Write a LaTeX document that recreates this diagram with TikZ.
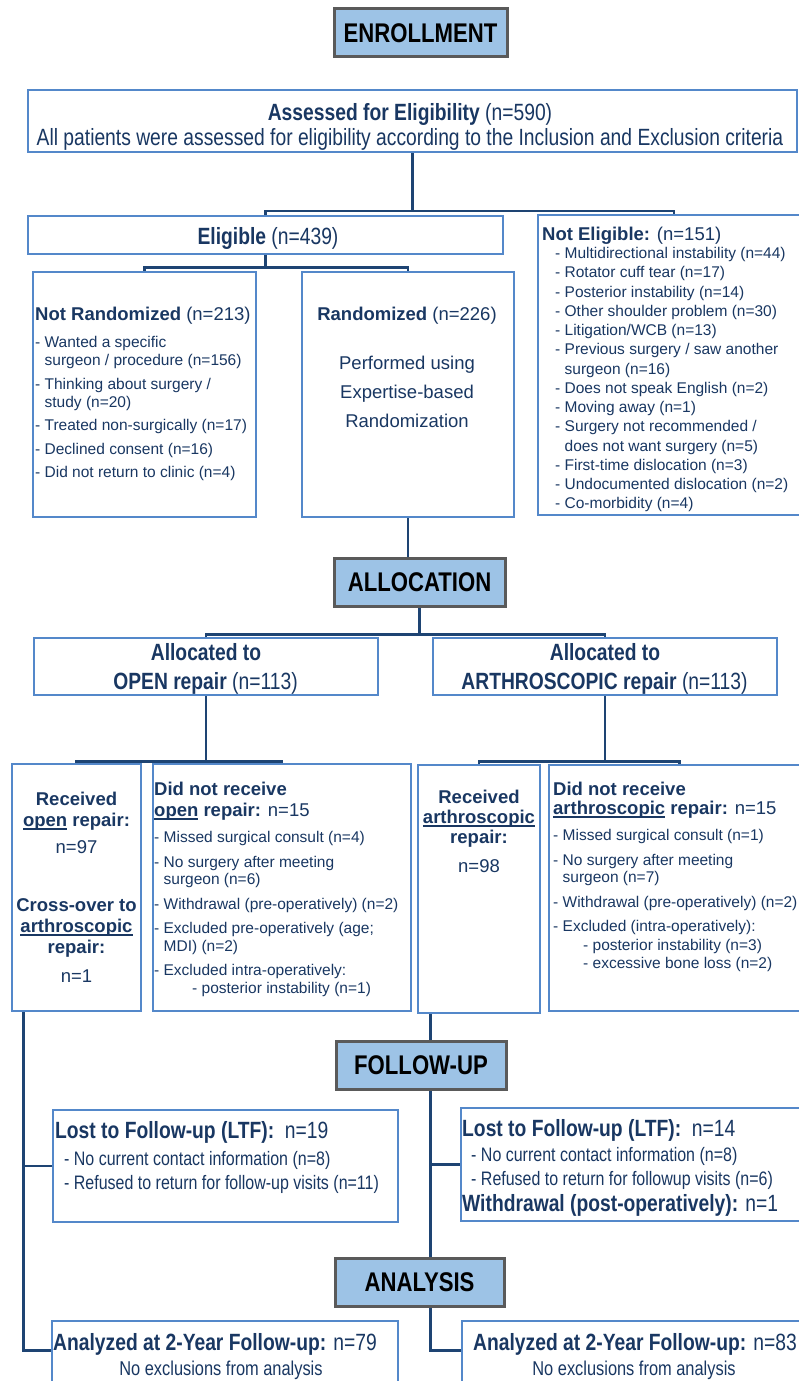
\documentclass[tikz,border=0pt]{standalone}
\usepackage{fontspec}
\setmainfont{Liberation Sans}
\newfontfamily\nar[FakeStretch=0.82]{Liberation Sans}
\usetikzlibrary{calc}
\definecolor{textc}{RGB}{25,55,98}
\definecolor{boxc}{RGB}{84,136,202}
\definecolor{linec}{RGB}{30,68,115}
\definecolor{headfill}{RGB}{157,195,230}
\definecolor{headc}{RGB}{90,90,90}
\newcommand\undl[1]{\setbox0\hbox{#1}\rlap{\rule[-3pt]{\wd0}{1.6pt}}\box0\relax}
\newcommand\mkbox[5]{\node[boxst, minimum width=#4-#2, minimum height=#5-#3] (#1) at ({(#2+#4)/2},{(#3+#5)/2}) {};}
\newcommand\mkhead[6]{\node[headst, minimum width=#4-#2, minimum height=#5-#3] (#1) at ({(#2+#4)/2},{(#3+#5)/2}) {#6};}
\tikzset{
  boxst/.style={draw=boxc, line width=2.8pt, fill=white, inner sep=0pt},
  headst/.style={draw=headc, line width=3pt, fill=headfill, inner sep=0pt, text=black, font=\nar\bfseries\fontsize{27}{27}\selectfont},
  conn/.style={draw=linec, line width=2.8pt},
  txt/.style={anchor=base west, inner sep=0pt, align=left, text=textc},
  ctxt/.style={anchor=base, inner sep=0pt, align=center, text=textc},
  nbig/.style={font=\nar\fontsize{23.5}{25}\selectfont},
  nsmall/.style={font=\nar\fontsize{19.5}{24}\selectfont},
  wtitle/.style={font=\fontsize{18.5}{21}\selectfont},
  witem/.style={font=\fontsize{15.5}{17.5}\selectfont}
}
\begin{document}
\begin{tikzpicture}[x=1pt,y=-1pt]
\path[use as bounding box] (0,0) rectangle (798,1381);
% heads
\mkhead{enr}{334}{9}{507}{57}{ENROLLMENT}
\mkhead{alloc}{334}{558}{505}{606}{ALLOCATION}
\mkhead{fol}{336}{1041}{506}{1089}{FOLLOW-UP}
\mkhead{ana}{335}{1258}{504}{1306}{ANALYSIS}
% boxes
\mkbox{assess}{28}{90}{797}{152}
\mkbox{elig}{28}{216}{503}{254}
\mkbox{nelig}{538}{215}{810}{515}
\mkbox{nrand}{33}{272}{256}{517}
\mkbox{rand}{302}{272}{514}{517}
\mkbox{open}{34}{638}{378}{695}
\mkbox{arth}{433}{638}{777}{695}
\mkbox{ropen}{12}{764}{141}{1011}
\mkbox{dopen}{153}{764}{411}{1011}
\mkbox{rarth}{418}{765}{540}{1013}
\mkbox{darth}{549}{765}{810}{1011}
\mkbox{lostL}{53}{1110}{398}{1222}
\mkbox{lostR}{461}{1108}{810}{1221}
\mkbox{anaL}{52}{1321}{398}{1400}
\mkbox{anaR}{462}{1321}{810}{1400}
% connectors
\coordinate (j1) at (412.5,211);
\draw[conn] (assess.south) -- (j1);
\draw[conn] (elig.north) |- (j1) -| (nelig.north);
\coordinate (j2) at ($(elig.south)+(0,12)$);
\draw[conn] (elig.south) -- (j2);
\draw[conn] (nrand.north) |- (j2) -| (rand.north);
\draw[conn] (rand.south) -- (rand.south |- alloc.north);
\coordinate (j3) at ($(alloc.south)+(0,27)$);
\draw[conn] (alloc.south) -- (j3);
\draw[conn] (open.north) |- (j3) -| (arth.north);
\coordinate (j4) at ($(open.south)+(0,65)$);
\draw[conn] (open.south) -- (j4);
\draw[conn] (ropen.north) |- (j4) -| (dopen.north);
\coordinate (j5) at ($(arth.south)+(0,65)$);
\draw[conn] (arth.south) -- (j5);
\draw[conn] (rarth.north) |- (j5) -| (darth.north);
\coordinate (l0) at ($(ropen.south west)+(13,0)$);
\coordinate (aL) at ($(anaL.north west)+(0,31)$);
\draw[conn] (l0) |- (aL);
\draw[conn] (l0 |- lostL.west) -- (lostL.west);
\coordinate (r0) at ($(rarth.south west)+(14,0)$);
\coordinate (aR) at ($(anaR.north west)+(0,31)$);
\draw[conn] (r0) -- (r0 |- fol.north);
\draw[conn] (r0 |- fol.south) -- (r0 |- ana.north);
\draw[conn] (r0 |- ana.south) |- (aR);
\draw[conn] (r0 |- lostR.west) -- (lostR.west);
% texts (base anchor of a multi-line node = baseline of its last line)
\node[ctxt, nbig] (t1) at (410,120) {{\bfseries Assessed for Eligibility} (n=590)};
\node[ctxt, nbig] (t2) at (410,145) {All patients were assessed for eligibility according to the Inclusion and Exclusion criteria};
\node[ctxt, nbig] (t3) at (268,244) {{\bfseries Eligible} (n=439)};
\node[txt, wtitle] (t4) at (542,240) {{\bfseries Not Eligible:} (n=151)};
\node[txt, font=\fontsize{15.5}{19.25}\selectfont] (t5) at (555,508.85) {- Multidirectional instability (n=44)\\- Rotator cuff tear (n=17)\\- Posterior instability (n=14)\\- Other shoulder problem (n=30)\\- Litigation/WCB (n=13)\\- Previous surgery / saw another\\\hphantom{- }surgeon (n=16)\\- Does not speak English (n=2)\\- Moving away (n=1)\\- Surgery not recommended /\\\hphantom{- }does not want surgery (n=5)\\- First-time dislocation (n=3)\\- Undocumented dislocation (n=2)\\- Co-morbidity (n=4)};
\node[txt, wtitle] (t6) at (35,320) {{\bfseries Not Randomized} (n=213)};
\node[txt, witem] (t7) at (35,477.6) {- Wanted a specific\\\hphantom{- }surgeon / procedure (n=156)\\[7pt]- Thinking about surgery /\\\hphantom{- }study (n=20)\\[6pt]- Treated non-surgically (n=17)\\[6pt]- Declined consent (n=16)\\[6pt]- Did not return to clinic (n=4)};
\node[ctxt, wtitle] (t8) at (407,320) {{\bfseries Randomized} (n=226)};
\node[ctxt, font=\fontsize{18.5}{29}\selectfont] (t9) at (407,427.7) {Performed using\\Expertise-based\\Randomization};
\node[ctxt, nbig] (t10) at (206,660) {\bfseries Allocated to};
\node[ctxt, nbig] (t11) at (205.5,689) {{\bfseries OPEN repair} (n=113)};
\node[ctxt, nbig] (t12) at (605,660) {\bfseries Allocated to};
\node[ctxt, nbig] (t13) at (604.5,689) {{\bfseries ARTHROSCOPIC repair} (n=113)};
\node[ctxt, wtitle] (t14) at (76.5,853.7) {{\bfseries Received}\\{\bfseries\undl{open} repair:}\\[6pt]n=97};
\node[ctxt, wtitle] (t15) at (76.5,982.7) {{\bfseries Cross-over to}\\{\bfseries\undl{arthroscopic}}\\{\bfseries repair:}\\[8pt]n=1};
\node[txt, wtitle] (t16) at (154,816.7) {{\bfseries Did not receive}\\{\bfseries\undl{open} repair:} n=15};
\node[txt, witem] (t17) at (154,993.1) {- Missed surgical consult (n=4)\\[7pt]- No surgery after meeting\\\hphantom{- }surgeon (n=6)\\[7pt]- Withdrawal (pre-operatively) (n=2)\\[7pt]- Excluded pre-operatively (age;\\\hphantom{- }MDI) (n=2)\\[7pt]- Excluded intra-operatively:\\\hspace*{38pt}- posterior instability (n=1)};
\node[ctxt, font=\fontsize{18.5}{20}\selectfont] (t18) at (479,872.7) {{\bfseries Received}\\{\bfseries\undl{arthroscopic}}\\{\bfseries repair:}\\[9pt]n=98};
\node[txt, font=\fontsize{18.5}{19}\selectfont] (t19) at (553,814.7) {{\bfseries Did not receive}\\{\bfseries\undl{arthroscopic} repair:} n=15};
\node[txt, witem] (t20) at (553,968.1) {- Missed surgical consult (n=1)\\[7pt]- No surgery after meeting\\\hphantom{- }surgeon (n=7)\\[7pt]- Withdrawal (pre-operatively) (n=2)\\[7pt]- Excluded (intra-operatively):\\[1.5pt]\hspace*{30pt}- posterior instability (n=3)\\\hspace*{30pt}- excessive bone loss (n=2)};
\node[txt, nbig] (t21) at (55,1138) {{\bfseries Lost to Follow-up (LTF):}\ \ n=19};
\node[txt, nsmall] (t22) at (64,1189) {- No current contact information (n=8)\\- Refused to return for follow-up visits (n=11)};
\node[txt, nbig] (t23) at (462,1136) {{\bfseries Lost to Follow-up (LTF):}\ \ n=14};
\node[txt, nsmall] (t24) at (471,1185) {- No current contact information (n=8)\\- Refused to return for followup visits (n=6)};
\node[txt, nbig] (t25) at (462,1211) {{\bfseries Withdrawal (post-operatively):} n=1};
\node[txt, nbig] (t26) at (53,1350) {{\bfseries Analyzed at 2-Year Follow-up:} n=79};
\node[ctxt, font=\nar\fontsize{20}{24}\selectfont] (t27) at (221,1375) {No exclusions from analysis};
\node[txt, nbig] (t28) at (473,1350) {{\bfseries Analyzed at 2-Year Follow-up:} n=83};
\node[ctxt, font=\nar\fontsize{20}{24}\selectfont] (t29) at (634,1375) {No exclusions from analysis};
\end{tikzpicture}
\end{document}
